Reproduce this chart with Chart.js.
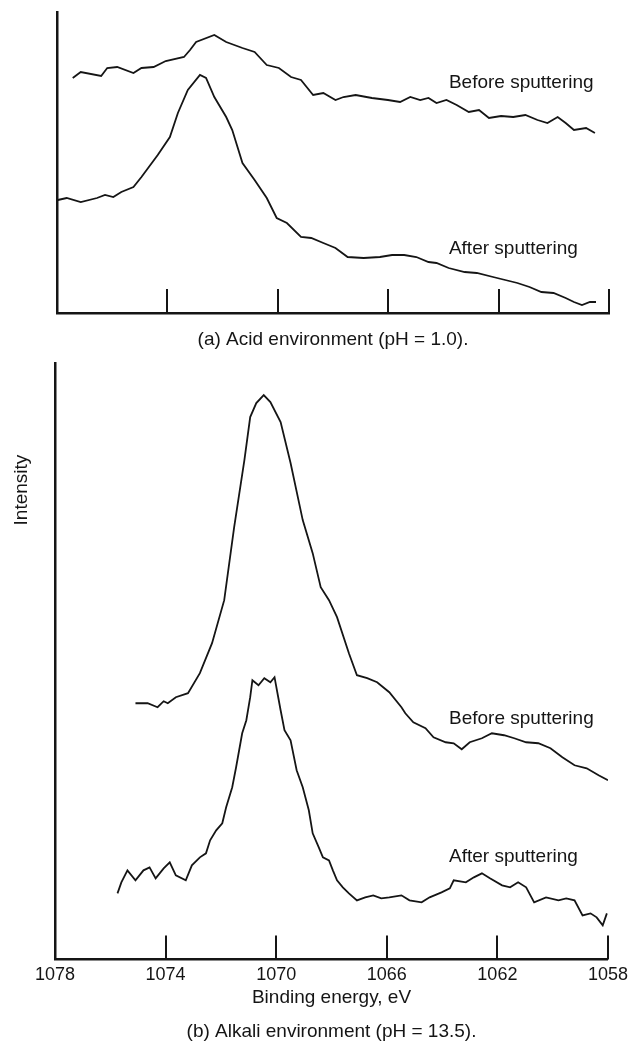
<!DOCTYPE html>
<html>
<head>
<meta charset="utf-8">
<script src="https://cdn.jsdelivr.net/npm/chart.js@4.4.1/dist/chart.umd.min.js"></script>
<style>
    html, body { margin: 0; padding: 0; background: #fff; }
    #wrap { position: relative; width: 633px; height: 1041px; }
    #acid { position: absolute; left: 0; top: 0; }
    #alkali { position: absolute; left: 0; top: 360px; }
</style>
</head>
<body>
<div id="wrap">
    <canvas id="acid" width="633" height="360"></canvas>
    <canvas id="alkali" width="633" height="681"></canvas>
</div>
<script>
// binding energy ticks, eV
const tickValues = [1078, 1074, 1070, 1066, 1062, 1058];
const innerTickValues = [1074, 1070, 1066, 1062, 1058];

// (a) acid, before sputtering (energy eV, intensity arb. units)
const acidBeforeE = [1077.43, 1077.14, 1076.40, 1076.18, 1075.82, 1075.23, 1074.94, 1074.50, 1074.06, 1073.40,
    1073.18, 1072.96, 1072.30, 1071.87, 1071.28, 1070.84, 1070.40, 1069.96, 1069.52, 1069.16,
    1068.72, 1068.35, 1067.91, 1067.62, 1067.18, 1066.59, 1066.01, 1065.57, 1065.20, 1064.84,
    1064.54, 1064.25, 1063.89, 1063.52, 1063.08, 1062.71, 1062.35, 1061.91, 1061.47, 1061.03,
    1060.59, 1060.23, 1059.86, 1059.57, 1059.27, 1058.83, 1058.51];
const acidBeforeI = [235, 241, 237, 245, 246, 240, 245, 246, 252, 256,
    263, 271, 278, 271, 265, 261, 248, 245, 236, 233,
    218, 220, 213, 216, 218, 215, 213, 211, 216, 213,
    215, 210, 213, 208, 201, 203, 195, 197, 196, 198,
    193, 190, 196, 190, 183, 185, 180];

// (a) acid, after sputtering
const acidAfterE = [1077.97, 1077.65, 1077.14, 1076.55, 1076.26, 1075.96, 1075.67, 1075.23, 1074.94, 1074.35,
    1073.91, 1073.62, 1073.26, 1072.82, 1072.60, 1072.30, 1071.87, 1071.65, 1071.28, 1070.84,
    1070.40, 1070.04, 1069.67, 1069.16, 1068.79, 1068.35, 1067.91, 1067.47, 1066.89, 1066.30,
    1065.86, 1065.42, 1064.98, 1064.54, 1064.25, 1063.81, 1063.23, 1062.79, 1062.20, 1061.76,
    1061.32, 1060.88, 1060.45, 1060.01, 1059.57, 1059.27, 1058.98, 1058.69, 1058.47];
const acidAfterI = [113, 115, 111, 115, 118, 116, 121, 126, 136, 158,
    176, 200, 223, 238, 235, 216, 196, 183, 150, 133,
    115, 95, 90, 76, 75, 70, 65, 56, 55, 56,
    58, 58, 56, 51, 50, 45, 41, 40, 36, 33,
    30, 26, 21, 20, 15, 11, 8, 11, 11];

// (b) alkali, before sputtering
const alkaliBeforeE = [1075.09, 1074.65, 1074.29, 1074.07, 1073.92, 1073.63, 1073.19, 1072.76, 1072.32, 1071.88,
    1071.52, 1071.15, 1070.94, 1070.72, 1070.45, 1070.21, 1069.84, 1069.48, 1069.04, 1068.68,
    1068.39, 1068.09, 1067.80, 1067.37, 1067.08, 1066.71, 1066.35, 1065.91, 1065.47, 1065.33,
    1065.04, 1064.60, 1064.31, 1063.87, 1063.58, 1063.29, 1063.00, 1062.56, 1062.20, 1061.76,
    1061.39, 1060.96, 1060.52, 1060.08, 1059.65, 1059.21, 1058.77, 1058.34, 1058.00];
const alkaliBeforeI = [256, 256, 252, 258, 256, 262, 266, 286, 316, 359,
    432, 499, 542, 556, 564, 557, 537, 496, 439, 406,
    372, 359, 342, 306, 284, 281, 277, 267, 252, 246,
    237, 231, 222, 217, 216, 210, 217, 221, 226, 224,
    221, 217, 216, 211, 202, 194, 191, 184, 179];

// (b) alkali, after sputtering
const alkaliAfterE = [1075.74, 1075.60, 1075.38, 1075.09, 1074.80, 1074.58, 1074.36, 1074.07, 1073.85, 1073.63,
    1073.27, 1073.05, 1072.76, 1072.54, 1072.39, 1072.17, 1071.95, 1071.81, 1071.59, 1071.45,
    1071.23, 1071.08, 1070.94, 1070.86, 1070.64, 1070.43, 1070.21, 1070.06, 1069.92, 1069.84,
    1069.70, 1069.48, 1069.26, 1069.04, 1068.82, 1068.68, 1068.46, 1068.31, 1068.09, 1067.95,
    1067.80, 1067.59, 1067.37, 1067.08, 1066.78, 1066.49, 1066.20, 1065.91, 1065.47, 1065.18,
    1064.74, 1064.45, 1064.02, 1063.72, 1063.58, 1063.14, 1062.85, 1062.56, 1062.27, 1061.83,
    1061.54, 1061.25, 1060.96, 1060.67, 1060.24, 1059.79, 1059.51, 1059.21, 1058.92, 1058.63,
    1058.41, 1058.19, 1058.04];
const alkaliAfterI = [66, 77, 89, 79, 89, 92, 81, 91, 97, 84,
    79, 94, 102, 106, 119, 129, 136, 152, 172, 192,
    226, 239, 262, 279, 274, 281, 277, 282, 261, 249,
    229, 219, 189, 172, 149, 126, 112, 102, 99, 89,
    79, 72, 66, 59, 62, 64, 61, 62, 64, 59,
    57, 62, 67, 71, 79, 77, 82, 86, 81, 74,
    72, 77, 72, 57, 62, 59, 61, 59, 44, 46,
    42, 34, 46];

const INK = "#151515";
Chart.defaults.font.family = "'Liberation Sans', Arial, sans-serif";
Chart.defaults.font.size = 19;
Chart.defaults.color = INK;

const toPoints = (xs, ys) => xs.map((x, i) => ({ x, y: ys[i] }));

// short tick marks standing up from the energy axis
const innerTicks = {
    id: "innerTicks",
    afterDraw(chart, args, opts) {
        const { ctx, chartArea, scales } = chart;
        ctx.save();
        ctx.strokeStyle = INK;
        ctx.lineWidth = 2;
        opts.values.forEach((v) => {
            const px = Math.round(scales.x.getPixelForValue(v));
            ctx.beginPath();
            ctx.moveTo(px, chartArea.bottom);
            ctx.lineTo(px, chartArea.bottom - opts.length);
            ctx.stroke();
        });
        ctx.restore();
    },
};

// curve names written next to each trace
const curveLabels = {
    id: "curveLabels",
    afterDraw(chart, args, opts) {
        const { ctx, scales } = chart;
        ctx.save();
        ctx.fillStyle = INK;
        ctx.font = "19px 'Liberation Sans', Arial, sans-serif";
        ctx.textBaseline = "middle";
        (opts.items || []).forEach((it) => {
            ctx.textAlign = "left";
            ctx.fillText(it.text, scales.x.getPixelForValue(it.x), scales.y.getPixelForValue(it.y));
        });
        if (opts.yTitle) {
            const t = opts.yTitle;
            ctx.translate(chart.chartArea.left - t.offset, scales.y.getPixelForValue(t.at));
            ctx.rotate(-Math.PI / 2);
            ctx.textAlign = "center";
            ctx.fillText(t.text, 0, 0);
        }
        ctx.restore();
    },
};

function lineSet(points) {
    return {
        data: points,
        borderColor: INK,
        borderWidth: 1.8,
        pointRadius: 0,
        tension: 0,
        fill: false,
    };
}

function makeOptions(cfg) {
    return {
        responsive: false,
        animation: false,
        layout: { padding: cfg.padding },
        plugins: {
            legend: { display: false },
            tooltip: { enabled: false },
            title: {
                display: true,
                position: "bottom",
                text: cfg.caption,
                font: { size: 19, weight: "normal", lineHeight: 1 },
                padding: cfg.captionPad,
                color: INK,
            },
            innerTicks: { values: innerTickValues, length: 24 },
            curveLabels: { items: cfg.labels, yTitle: cfg.yTitle },
        },
        scales: {
            x: {
                type: "linear",
                reverse: true,
                min: 1058,
                max: 1078,
                afterBuildTicks: (s) => { s.ticks = tickValues.map((v) => ({ value: v })); },
                afterFit: (s) => { s.height = cfg.xHeight; },
                grid: { display: false, drawTicks: false },
                border: { display: true, color: INK, width: 2.5 },
                ticks: {
                    display: cfg.showTicks,
                    padding: 5,
                    font: { size: 18 },
                    color: INK,
                    callback: (v) => String(v),
                },
                title: {
                    display: cfg.showTicks,
                    text: "Binding energy, eV",
                    font: { size: 19 },
                    padding: 0,
                    color: INK,
                },
            },
            y: {
                min: 0,
                max: cfg.yMax,
                afterFit: (s) => { s.width = 0; },
                grid: { display: false, drawTicks: false },
                border: { display: true, color: INK, width: 2.5 },
                ticks: { display: false },
            },
        },
    };
}

new Chart(document.getElementById("acid"), {
    type: "line",
    data: {
        datasets: [
            lineSet(toPoints(acidBeforeE, acidBeforeI)),
            lineSet(toPoints(acidAfterE, acidAfterI)),
        ],
    },
    options: makeOptions({
        padding: { left: 57, right: 24, top: 12, bottom: 0 },
        caption: "(a) Acid environment (pH = 1.0).",
        captionPad: { top: 17.5, bottom: 10.5 },
        showTicks: false,
        xHeight: 0,
        yMax: 301,
        labels: [
            { text: "Before sputtering", x: 1063.8, y: 230 },
            { text: "After sputtering", x: 1063.8, y: 64 },
        ],
    }),
    plugins: [innerTicks, curveLabels],
});

new Chart(document.getElementById("alkali"), {
    type: "line",
    data: {
        datasets: [
            lineSet(toPoints(alkaliBeforeE, alkaliBeforeI)),
            lineSet(toPoints(alkaliAfterE, alkaliAfterI)),
        ],
    },
    options: makeOptions({
        padding: { left: 55, right: 25, top: 3, bottom: 0 },
        caption: "(b) Alkali environment (pH = 13.5).",
        captionPad: { top: 12.6, bottom: 0 },
        showTicks: true,
        xHeight: 50,
        yMax: 596,
        labels: [
            { text: "Before sputtering", x: 1063.75, y: 240 },
            { text: "After sputtering", x: 1063.75, y: 103 },
        ],
        yTitle: { text: "Intensity", at: 469, offset: 33 },
    }),
    plugins: [innerTicks, curveLabels],
});
</script>
</body>
</html>
